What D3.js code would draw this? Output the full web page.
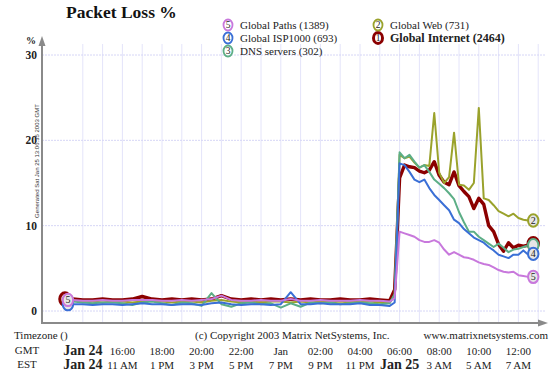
<!DOCTYPE html>
<html><head><meta charset="utf-8">
<script src="https://cdn.jsdelivr.net/npm/d3@7"></script>
<style>body{margin:0;background:#fff}svg{display:block}</style>
</head><body><svg id="c" width="550" height="380"></svg>
<script>
// hours since Jan 24 00:00 GMT
const times = [13.25,13.5,14,14.5,15,15.5,16,16.5,17,17.5,18,18.5,19,19.5,20,20.5,21,21.5,22,22.5,23,23.5,24,24.5,25,25.5,26,26.5,27,27.5,28,28.5,29,29.5,
  29.75,
  30,30.25,30.5,30.75,31,31.25,31.5,31.75,32,32.25,32.5,32.75,33,33.25,33.5,33.75,34,34.25,34.5,34.75,35,35.25,35.5,35.75,36,36.25,36.5,36.75];

const globalInternet = [1.4,1.4,1.3,1.3,1.4,1.3,1.3,1.4,1.7,1.4,1.3,1.4,1.3,1.4,1.3,1.4,1.8,1.4,1.3,1.4,1.3,1.4,1.3,1.4,1.3,1.4,1.3,1.3,1.4,1.3,1.3,1.4,1.3,1.2,
  2.5,
  15.6,17.1,16.9,16.8,16.4,16.2,16.5,17.5,15.9,15.1,14.8,16.3,14.7,14.0,13.4,12.0,13.2,12.5,10.0,9.3,7.8,7.0,8.0,7.4,7.7,7.6,7.7,7.9];
const globalWeb = [1.2,1.2,1.1,1.1,1.0,1.1,1.1,1.0,1.1,1.2,1.1,1.0,1.1,1.1,1.0,1.2,1.3,1.1,1.0,1.1,1.0,1.1,1.1,1.0,1.1,1.0,1.1,1.0,1.1,1.0,1.1,1.1,1.0,1.0,
  1.8,
  18.3,17.9,18.1,17.4,16.8,17.1,17.0,23.2,16.2,15.0,15.7,20.9,14.8,14.7,14.2,15.0,23.8,13.2,13.0,12.4,11.7,11.4,11.1,11.4,10.9,10.7,10.6,10.6];
const dnsServers = [1.1,1.1,1.0,0.9,1.0,1.0,0.9,0.7,1.0,1.1,0.9,0.7,1.0,0.9,0.6,2.1,0.8,0.5,0.9,1.0,0.8,0.9,0.4,0.9,0.5,1.0,0.9,1.0,0.8,0.9,1.0,0.9,0.8,0.9,
  2.0,
  18.6,17.9,18.3,17.5,16.8,17.1,16.3,15.4,14.9,14.4,13.8,13.1,11.6,10.4,9.3,9.3,8.7,8.3,7.9,7.5,7.9,7.4,6.9,7.2,7.3,7.5,7.7,7.7];
const globalISP1000 = [0.8,0.8,0.8,0.7,0.8,0.8,0.7,0.8,0.9,0.8,0.8,0.7,0.8,0.8,0.7,0.9,1.0,0.8,0.7,0.8,0.8,0.7,0.8,2.2,0.8,0.8,0.9,0.8,0.8,0.8,0.9,0.7,0.7,0.6,
  1.0,
  17.3,17.1,16.3,15.4,15.1,15.4,14.4,13.6,13.0,12.4,11.8,10.7,10.3,9.6,9.1,8.6,8.3,8.0,7.5,7.1,6.6,6.4,6.2,6.6,6.6,7.1,6.6,6.7];
const globalPaths = [1.3,1.3,1.2,1.2,1.3,1.2,1.2,1.3,1.3,1.3,1.2,1.2,1.3,1.2,1.3,1.4,1.8,1.3,1.2,1.2,1.3,1.2,1.2,1.4,1.2,1.2,1.3,1.2,1.2,1.2,1.3,1.2,1.2,1.1,
  1.5,
  9.3,9.1,8.9,8.7,8.3,8.1,8.1,8.3,8.0,7.2,6.6,6.9,6.6,6.3,6.2,6.0,5.7,5.5,5.4,5.1,4.8,4.6,4.5,4.6,4.2,4.1,4.0,4.0];

const seriesIds = ["1","2","3","4","5"];
const seriesLabels = ["Global Internet (2464)","Global Web (731)","DNS servers (302)","Global ISP1000 (693)","Global Paths (1389)"];
const seriesValues = [globalInternet, globalWeb, dnsServers, globalISP1000, globalPaths];
const seriesColors = ["#8b0000","#9aa22c","#5cae86","#3a6fd6","#c878dc"];

const yTicks = [0,10,20,30];
const gmtTickHours = [14,16,18,20,22,24,26,28,30,32,34,36];
const gmtTickLabels = ["Jan 24","16:00","18:00","20:00","22:00","Jan","02:00","04:00","06:00","08:00","10:00","12:00"];
const estTickLabels = ["Jan 24","11 AM","1 PM","3 PM","5 PM","7 PM","9 PM","11 PM","Jan 25","3 AM","5 AM","7 AM"];
const gridHours = d3.range(14, 38);

const svg = d3.select("#c");
const serif = "'Liberation Serif', 'DejaVu Serif', serif";
const x = d3.scaleLinear().domain([16, 36]).range([122.4, 518.4]);
const y = d3.scaleLinear().domain([0, 30]).range([311, 55]);
const axisX0 = 42, axisY0 = 323;

svg.append("rect").attr("width",550).attr("height",380).attr("fill","#fff");

// grid
const g = svg.append("g");
g.selectAll(".vg").data(gridHours).join("line")
  .attr("x1", d=>x(d)).attr("x2", d=>x(d)).attr("y1", 44).attr("y2", axisY0)
  .attr("stroke","#e4e4fa").attr("stroke-width",1);
g.selectAll(".hg").data(yTicks).join("line")
  .attr("x1", axisX0).attr("x2", 546).attr("y1", d=>y(d)).attr("y2", d=>y(d))
  .attr("stroke","#d6d6f6").attr("stroke-width",1).attr("stroke-dasharray","2,1");

// axes
svg.append("line").attr("x1",axisX0).attr("x2",axisX0).attr("y1",44).attr("y2",axisY0+1)
  .attr("stroke","#8a8a8a").attr("stroke-width",2);
svg.append("path").attr("d",`M${axisX0-3.5},46 L${axisX0},36 L${axisX0+3.5},46 Z`).attr("fill","#8a8a8a");
svg.append("line").attr("x1",axisX0).attr("x2",540).attr("y1",axisY0).attr("y2",axisY0)
  .attr("stroke","#8a8a8a").attr("stroke-width",2);
svg.append("path").attr("d",`M538,${axisY0-3.5} L548,${axisY0} L538,${axisY0+3.5} Z`).attr("fill","#8a8a8a");

// y tick labels
svg.selectAll(".yt").data(yTicks).join("text")
  .attr("x",37).attr("y",d=>y(d)+4).attr("text-anchor","end")
  .attr("font-family",serif).attr("font-weight","bold").attr("font-size",11.5).attr("fill","#222")
  .text(d=>d);
svg.append("text").attr("x",31).attr("y",44).attr("text-anchor","middle")
  .attr("font-family",serif).attr("font-weight","bold").attr("font-size",10).attr("fill","#222").text("%");

// generated text
svg.append("text").attr("transform","translate(39,161) rotate(-90)").attr("text-anchor","middle")
  .attr("font-family","'Liberation Sans', sans-serif").attr("font-size",6).attr("fill","#333")
  .text("Generated Sat Jan 25 13:06:35 2003 GMT");

// title
svg.append("text").attr("x",66).attr("y",18).attr("font-family",serif).attr("font-weight","bold")
  .attr("font-size",17.5).attr("fill","#111").text("Packet Loss %");

// lines (1 drawn first, 5 on top)
const line = d3.line().x((d,i)=>x(times[i])).y(d=>y(d));
seriesValues.forEach((vals,k)=>{
  svg.append("path").attr("d", line(vals)).attr("fill","none")
    .attr("stroke", seriesColors[k]).attr("stroke-width", k===0 ? 3.4 : 2)
    .attr("stroke-linejoin","round").attr("stroke-linecap","round");
});

function marker(parent, cx, cy, k, showLabel) {
  const gg = parent.append("g").attr("transform",`translate(${cx},${cy})`);
  gg.append("ellipse").attr("rx",5.2).attr("ry",6.2).attr("fill","#e6e6e6")
    .attr("stroke",seriesColors[k]).attr("stroke-width", k===0 ? 3 : 2);
  if (showLabel) gg.append("text").attr("y",3.3).attr("text-anchor","middle").attr("font-family",serif)
    .attr("font-size",10).attr("fill","#222").text(seriesIds[k]);
}
// start & end markers (labels only where they stay visible)
const last = times.length - 1;
seriesValues.forEach((vals,k)=>{ marker(svg, x(times[0]) - (k===0?3:0), y(vals[0]), k, k===4); });
seriesValues.forEach((vals,k)=>{ marker(svg, x(times[last]), y(vals[last]), k, k!==0 && k!==2); });

// legend
const legendPos = [[378,38],[378,25],[228,51],[228,38],[228,25]];
seriesLabels.forEach((lab,k)=>{
  const [lx,ly] = legendPos[k];
  const gg = svg.append("g").attr("transform",`translate(${lx},${ly})`);
  gg.append("ellipse").attr("rx",4.5).attr("ry",5.5).attr("fill","#fff")
    .attr("stroke",seriesColors[k]).attr("stroke-width", k===0 ? 3 : 1.8);
  gg.append("text").attr("y",3.3).attr("text-anchor","middle").attr("font-family",serif)
    .attr("font-size",9.5).attr("fill","#222").text(seriesIds[k]);
  gg.append("text").attr("x",12).attr("y",3.8).attr("font-family",serif)
    .attr("font-size", k===0 ? 12 : 11).attr("font-weight", k===0 ? "bold" : "normal")
    .attr("fill","#222").text(lab);
});

// footer
const foot = svg.append("g").attr("font-family",serif).attr("fill","#222");
foot.append("text").attr("x",14).attr("y",339).attr("font-size",11).text("Timezone ()");
foot.append("text").attr("x",195).attr("y",339).attr("font-size",11).text("(c) Copyright 2003 Matrix NetSystems, Inc.");
foot.append("text").attr("x",548).attr("y",339).attr("text-anchor","end").attr("font-size",11).text("www.matrixnetsystems.com");
foot.append("text").attr("x",27).attr("y",354).attr("text-anchor","middle").attr("font-size",11).text("GMT");
foot.append("text").attr("x",27).attr("y",368).attr("text-anchor","middle").attr("font-size",11).text("EST");
function isBold(s){ return s.startsWith("Jan ") ; }
foot.selectAll(".gt").data(gmtTickHours).join("text")
  .attr("x",d=>x(d)).attr("y",355).attr("text-anchor","middle")
  .attr("font-size",(d,i)=>isBold(gmtTickLabels[i])?14:11)
  .attr("font-weight",(d,i)=>isBold(gmtTickLabels[i])?"bold":"normal")
  .text((d,i)=>gmtTickLabels[i]);
foot.selectAll(".et").data(gmtTickHours).join("text")
  .attr("x",d=>x(d)).attr("y",369).attr("text-anchor","middle")
  .attr("font-size",(d,i)=>isBold(estTickLabels[i])?14:11)
  .attr("font-weight",(d,i)=>isBold(estTickLabels[i])?"bold":"normal")
  .text((d,i)=>estTickLabels[i]);
</script></body></html>
